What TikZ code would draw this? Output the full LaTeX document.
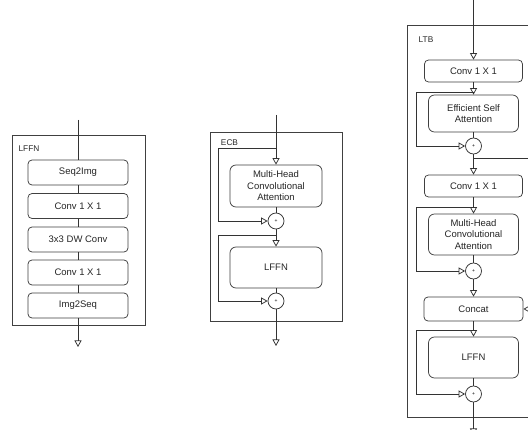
\documentclass[tikz,border=0pt]{standalone}
\usepackage{fontspec}
\setmainfont{Liberation Sans}
\usetikzlibrary{arrows.meta}
\begin{document}
\begin{tikzpicture}[x=1pt,y=-1pt,
 ln/.style={draw=black!80,line width=0.75pt},
 arr/.style={ln,-{Triangle[open,length=6.5pt,width=7pt]}},
 blk/.style={draw=black!75,fill=white,rounded corners=4pt,line width=0.75pt,font=\fontsize{9.5}{11.5}\selectfont,text=black!85,align=center,inner sep=0pt},
 bigblk/.style={blk,rounded corners=6pt},
 frame/.style={draw=black!75,line width=0.75pt},
 lbl/.style={font=\fontsize{8.3}{9}\selectfont,text=black!85,inner sep=0pt},
 sum/.style={circle,draw=black!80,fill=white,line width=0.75pt,minimum size=16pt,inner sep=0pt,font=\fontsize{5}{5}\selectfont}]
\useasboundingbox (0,0) rectangle (528,430);
\clip (0,0) rectangle (528,430);
\fill[white] (0,0) rectangle (528,430);

% ---------- LFFN ----------
\draw[frame] (12,135) rectangle (145,325);
\node[lbl] (lffnlbl) at (29,149) {LFFN};
\coordinate (fin) at (78,120);
\coordinate (fout) at (78,347);
\node[blk,minimum width=100pt,minimum height=25pt] (f1) at (78,172.5) {Seq2Img};
\node[blk,minimum width=100pt,minimum height=25pt] (f2) at (78,206) {Conv 1 X 1};
\node[blk,minimum width=100pt,minimum height=25pt] (f3) at (78,239.5) {3x3 DW Conv};
\node[blk,minimum width=100pt,minimum height=25pt] (f4) at (78,272.5) {Conv 1 X 1};
\node[blk,minimum width=100pt,minimum height=25pt] (f5) at (78,305.5) {Img2Seq};
\draw[ln] (fin) -- (f1);
\draw[ln] (f1) -- (f2);
\draw[ln] (f2) -- (f3);
\draw[ln] (f3) -- (f4);
\draw[ln] (f4) -- (f5);
\draw[arr] (f5) -- (fout);

% ---------- ECB ----------
\draw[frame] (210,132) rectangle (342,321);
\node[lbl] (ecblbl) at (229.5,143) {ECB};
\coordinate (ein) at (276,115);
\coordinate (eb1) at (276,148);
\coordinate (eb2) at (276,235);
\coordinate (eout) at (276,346);
\node[bigblk,minimum width=92pt,minimum height=42pt] (e1) at (276,186) {Multi-Head\\Convolutional\\Attention};
\node[sum] (es1) at (276,221) {+};
\node[bigblk,minimum width=92pt,minimum height=41pt] (e2) at (276,267.5) {LFFN};
\node[sum] (es2) at (276,301) {+};
\draw[arr] (ein) -- (e1);
\draw[arr] (eb1) -- ++(-58,0) |- (es1);
\draw[ln] (e1) -- (es1);
\draw[arr] (es1) -- (e2);
\draw[arr] (eb2) -- ++(-58,0) |- (es2);
\draw[ln] (e2) -- (es2);
\draw[arr] (es2) -- (eout);

% ---------- LTB ----------
\draw[frame] (407,25) rectangle (560,417);
\node[lbl] (ltblbl) at (426,40) {LTB};
\coordinate (lin) at (473.5,-2);
\coordinate (lb1) at (473.5,92);
\coordinate (lbr) at (473.5,158);
\coordinate (lbrend) at (545,158);
\coordinate (lb2) at (473.5,207);
\coordinate (lb3) at (473.5,330);
\coordinate (cin) at (545,309);
\coordinate (lout) at (473.5,435);
\node[blk,minimum width=98pt,minimum height=22pt] (l1) at (473.5,71) {Conv 1 X 1};
\node[bigblk,minimum width=90pt,minimum height=37pt] (l2) at (473.5,113.5) {Efficient Self\\Attention};
\node[sum] (ls1) at (473.5,146) {+};
\node[blk,minimum width=98pt,minimum height=22pt] (l3) at (473.5,186) {Conv 1 X 1};
\node[bigblk,minimum width=90pt,minimum height=41pt] (l4) at (473.5,234.5) {Multi-Head\\Convolutional\\Attention};
\node[sum] (ls2) at (473.5,271) {+};
\node[blk,minimum width=99pt,minimum height=24pt] (l5) at (473.5,309) {Concat};
\node[bigblk,minimum width=90pt,minimum height=41pt] (l6) at (473.5,357.5) {LFFN};
\node[sum] (ls3) at (473.5,394) {+};
\draw[arr] (lin) -- (l1);
\draw[arr] (l1) -- (l2);
\draw[arr] (lb1) -- ++(-57.5,0) |- (ls1);
\draw[ln] (l2) -- (ls1);
\draw[arr] (ls1) -- (l3);
\draw[ln] (lbr) -- (lbrend);
\draw[arr] (l3) -- (l4);
\draw[arr] (lb2) -- ++(-57.5,0) |- (ls2);
\draw[ln] (l4) -- (ls2);
\draw[arr] (ls2) -- (l5);
\draw[arr] (cin) -- (l5);
\draw[arr] (l5) -- (l6);
\draw[arr] (lb3) -- ++(-57.5,0) |- (ls3);
\draw[ln] (l6) -- (ls3);
\draw[arr] (ls3) -- (lout);
\end{tikzpicture}
\end{document}
